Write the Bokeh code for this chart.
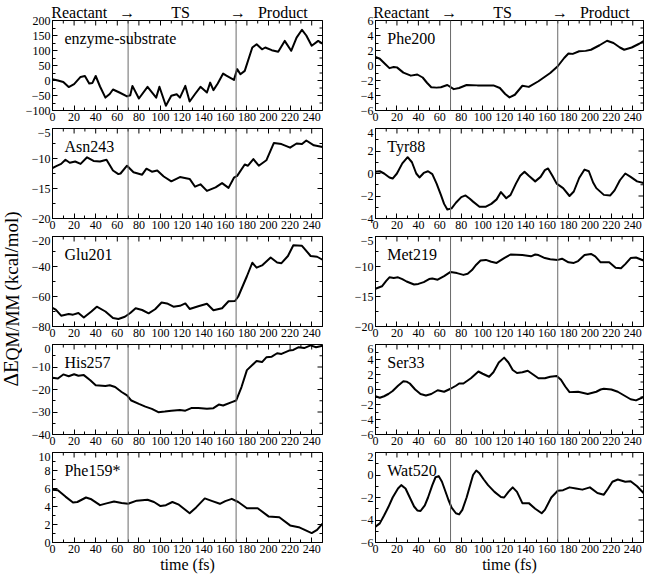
import math
from bokeh.plotting import figure
from bokeh.models import Range1d, SingleIntervalTicker, FixedTicker, LinearAxis, Span, Label
from bokeh.layouts import row, column
from bokeh.embed import file_html
from bokeh.resources import INLINE

FONT = "Liberation Serif"

# ---------------- data (time in fs, energy in kcal/mol) ----------------
es_t = [0, 5, 10, 15, 20, 26, 30, 34, 37, 40, 44, 49, 53, 56, 62, 69, 72, 74, 80, 88, 96, 99, 105, 110, 115, 118,
        123, 127, 132, 137, 143, 146, 149, 153, 158, 161, 168, 171, 174, 178, 185, 189, 194, 197, 203, 209, 215,
        221, 226, 231, 235, 240, 246, 250]
es_v = [4, 0, -5, -22, -12, 12, 15, -10, -8, 15, -20, -57, -45, -30, -40, -53, -49, -18, -60, -21, -57, -21, -84,
        -51, -46, -57, -18, -70, -45, -21, -40, -7, -32, -10, 23, 16, 2, 38, 21, 32, 110, 121, 104, 110, 101, 96,
        132, 99, 143, 169, 150, 116, 132, 123]

asn_t = [0, 3, 8, 12, 16, 21, 26, 32, 38, 44, 50, 56, 61, 63, 69, 75, 83, 87, 92, 97, 103, 110, 118, 127, 132, 137,
         143, 151, 157, 163, 168, 171, 178, 181, 186, 191, 198, 205, 212, 220, 226, 231, 235, 242, 250]
asn_v = [-11.6, -11.3, -10.9, -10.2, -10.7, -10.5, -10.9, -9.8, -10.4, -10.5, -10.2, -12.0, -12.6, -12.5, -11.2,
         -12.3, -12.7, -11.7, -12.2, -12.0, -13.0, -13.8, -13.1, -13.4, -14.7, -14.3, -15.4, -14.8, -14.1, -14.9,
         -13.2, -12.9, -11.0, -11.2, -10.1, -11.2, -10.3, -7.4, -7.6, -8.2, -7.5, -7.6, -7.0, -7.8, -8.1]

glu_t = [0, 3, 8, 15, 19, 24, 29, 36, 41, 49, 56, 61, 67, 72, 77, 83, 89, 95, 101, 106, 112, 118, 123, 127, 135,
         143, 149, 157, 163, 169, 172, 180, 185, 189, 194, 202, 208, 212, 218, 223, 231, 239, 245, 250]
glu_v = [-67.6, -68.8, -72.8, -71.7, -72.1, -71.0, -74.0, -70.0, -66.8, -70.0, -74.4, -75.0, -73.5, -71.0, -67.8,
         -69.0, -71.2, -68.5, -64.0, -64.6, -66.8, -66.2, -64.6, -68.3, -66.5, -64.8, -69.2, -67.8, -63.2, -63.0,
         -60.0, -46.5, -37.5, -40.8, -39.3, -34.0, -37.3, -37.8, -33.0, -25.8, -26.2, -33.0, -33.5, -35.5]

his_t = [0, 5, 10, 15, 20, 24, 29, 35, 40, 49, 53, 58, 64, 69, 73, 80, 86, 92, 98, 104, 110, 118, 123, 129, 135,
         143, 149, 154, 158, 166, 170, 175, 180, 185, 189, 194, 198, 203, 208, 212, 219, 223, 228, 233, 239, 244, 250]
his_v = [-14.8, -15.1, -13.3, -14.1, -13.2, -13.9, -13.6, -15.9, -18.1, -18.4, -18.1, -18.9, -21.1, -22.6, -24.9,
         -26.4, -27.6, -28.6, -30.1, -29.8, -29.4, -29.1, -29.4, -28.2, -28.2, -28.6, -28.3, -26.7, -27.1, -25.6,
         -24.9, -18.9, -11.4, -9.1, -7.3, -7.8, -5.7, -5.4, -3.9, -4.2, -2.7, -2.4, -1.2, -1.6, -0.4, -1.2, -0.6]

phe159_t = [0, 5, 12, 19, 23, 31, 36, 44, 50, 57, 64, 70, 78, 88, 94, 100, 105, 111, 117, 127, 133, 141, 148, 155,
            160, 166, 172, 180, 190, 200, 210, 220, 228, 240, 245, 250]
phe159_v = [5.85, 5.8, 5.1, 4.45, 4.5, 5.0, 4.8, 4.15, 4.35, 4.55, 4.4, 4.3, 4.65, 4.75, 4.5, 4.05, 4.15, 4.5, 4.2,
            3.25, 3.9, 4.9, 4.6, 4.3, 4.6, 4.85, 4.5, 3.8, 3.8, 2.9, 2.8, 1.9, 1.7, 1.05, 1.4, 2.1]

phe200_t = [0, 4, 9, 13, 17, 20, 26, 33, 39, 44, 48, 52, 57, 61, 67, 73, 78, 85, 95, 110, 116, 121, 125, 130, 137,
            143, 152, 158, 163, 170, 176, 180, 184, 190, 196, 201, 209, 216, 222, 228, 232, 239, 246, 250]
phe200_v = [1.15, 0.9, 0.2, -0.35, -0.2, -0.25, -0.95, -1.35, -1.2, -1.6, -2.3, -2.9, -2.95, -2.9, -2.6, -3.15,
            -3.0, -2.6, -2.65, -2.65, -3.0, -3.8, -4.25, -3.9, -2.7, -2.85, -2.1, -1.5, -1.0, -0.1, 1.0, 1.6, 1.55,
            1.9, 1.95, 2.1, 2.7, 3.3, 3.0, 2.4, 2.1, 2.4, 2.9, 3.25]

tyr_t = [0, 4, 8, 13, 16, 20, 25, 30, 34, 38, 41, 45, 49, 53, 57, 61, 64, 67, 71, 75, 80, 84, 88, 91, 97, 103, 108,
         113, 117, 122, 126, 131, 135, 139, 143, 149, 154, 158, 161, 165, 169, 175, 181, 185, 190, 195, 199, 203,
         206, 213, 219, 223, 228, 233, 238, 244, 250]
tyr_v = [0.15, 0.2, 0.0, -0.35, -0.45, 0.0, 0.9, 1.45, 1.0, 0.0, -0.35, 0.05, 0.2, -0.05, -0.9, -1.9, -2.7, -3.2,
         -3.1, -2.6, -2.1, -1.95, -2.25, -2.5, -2.95, -2.95, -2.7, -2.3, -1.65, -2.2, -1.9, -0.9, -0.2, 0.15, -0.2,
         -0.7, -0.3, 0.3, 0.45, -0.2, -0.9, -1.3, -2.0, -1.6, -0.4, 0.35, 0.2, -0.8, -1.3, -1.9, -1.95, -1.5, -0.6,
         0.0, -0.3, -0.7, -0.85]

met_t = [0, 6, 10, 13, 17, 21, 25, 29, 36, 40, 45, 50, 53, 58, 64, 70, 76, 82, 86, 90, 94, 98, 103, 108, 113, 120,
         126, 137, 145, 149, 152, 158, 163, 170, 174, 180, 185, 189, 195, 201, 205, 210, 218, 224, 229, 233, 238,
         243, 250]
met_v = [-13.7, -13.3, -12.4, -11.8, -11.9, -11.8, -12.1, -12.5, -13.0, -12.9, -12.6, -12.1, -12.0, -12.2, -11.6,
         -10.9, -11.1, -11.4, -11.2, -10.6, -9.7, -9.0, -8.9, -9.2, -9.4, -8.6, -8.0, -8.1, -8.3, -8.0, -8.1, -8.6,
         -8.8, -8.9, -8.7, -9.3, -9.4, -9.1, -8.1, -7.9, -8.3, -9.3, -9.3, -10.2, -10.3, -9.6, -8.6, -8.5, -9.0]

ser_t = [0, 4, 8, 12, 16, 21, 26, 29, 32, 37, 42, 47, 52, 58, 64, 70, 75, 78, 82, 89, 96, 100, 106, 110, 115, 120,
         124, 128, 132, 137, 142, 147, 152, 158, 163, 169, 173, 177, 181, 189, 198, 206, 210, 213, 220, 226, 232,
         238, 243, 250]
ser_v = [-0.9, -1.1, -0.9, -0.6, -0.2, 0.5, 1.1, 1.05, 0.8, 0.0, -0.6, -0.8, -0.6, -0.1, -0.3, 0.1, 0.5, 0.8, 0.8,
         1.5, 2.4, 2.1, 1.7, 2.3, 3.6, 4.25, 3.6, 2.6, 2.2, 2.3, 2.5, 2.0, 1.5, 1.5, 1.7, 1.8, 1.3, 0.4, -0.35,
         -0.3, -0.6, -0.3, 0.0, 0.1, 0.0, -0.3, -0.8, -1.3, -1.45, -1.0]

wat_t = [0, 4, 8, 12, 16, 21, 24, 28, 32, 36, 39, 42, 46, 49, 53, 56, 59, 62, 65, 68, 71, 75, 78, 81, 85, 88, 91,
         94, 97, 101, 105, 111, 117, 120, 124, 128, 132, 137, 143, 149, 155, 158, 164, 170, 175, 181, 187, 193,
         200, 207, 213, 217, 221, 226, 233, 238, 244, 250]
wat_v = [-4.6, -4.3, -3.6, -2.85, -2.0, -1.2, -0.9, -1.2, -2.0, -2.8, -3.15, -3.2, -2.7, -2.0, -0.9, -0.2, -0.1,
         -0.6, -1.4, -2.2, -2.9, -3.4, -3.5, -3.1, -2.0, -1.0, 0.0, 0.4, 0.15, -0.4, -0.9, -1.5, -1.95, -2.0, -1.5,
         -1.1, -1.5, -2.5, -2.5, -3.0, -3.4, -3.1, -2.0, -1.4, -1.35, -1.1, -1.2, -1.3, -1.1, -1.6, -1.75, -1.2,
         -0.6, -0.4, -0.6, -0.55, -1.0, -1.6]

x_step = 20
x_max = 250
stage_lines = [70, 170]
NB = "\u00a0"
header_text = ("Reactant" + NB * 3 + "\u2192" + NB * 9 + "TS" + NB * 10 + "\u2192" + NB * 3 + "Product" + NB * 4)

left_specs = [
    ("enzyme-substrate", es_t, es_v, -100, 200, 50),
    ("Asn243", asn_t, asn_v, -20, -5, 5),
    ("Glu201", glu_t, glu_v, -80, -20, 20),
    ("His257", his_t, his_v, -40, 0, 10),
    ("Phe159*", phe159_t, phe159_v, 0, 10, 2),
]
right_specs = [
    ("Phe200", phe200_t, phe200_v, -6, 6, 2),
    ("Tyr88", tyr_t, tyr_v, -4, 4, 2),
    ("Met219", met_t, met_v, -20, -5, 5),
    ("Ser33", ser_t, ser_v, -6, 6, 2),
    ("Wat520", wat_t, wat_v, -6, 2, 2),
]

FH = 90
MAJ, MIN = 5, 3


def col_geom(col):
    # frame width, left border, right border
    return (270, 24, 8) if col == 0 else (268, 45, 1)


def style_axis(ax):
    ax.axis_line_color = "black"
    ax.axis_line_width = 1
    ax.major_tick_in = MAJ
    ax.major_tick_out = 0
    ax.minor_tick_in = MIN
    ax.minor_tick_out = 0
    ax.major_tick_line_color = "black"
    ax.minor_tick_line_color = "black"
    ax.major_label_text_font = FONT
    ax.major_label_text_color = "black"
    ax.major_label_text_font_size = "12px"
    ax.major_label_standoff = 2


def frange(a, b, s):
    out = []
    k = 0
    while a + k * s <= b + 1e-9:
        out.append(a + k * s)
        k += 1
    return out


def make_panel(spec, col, ri):
    name, t, v, ylo, yhi, ystep = spec
    fw, bl, br = col_geom(col)
    first = ri == 0
    last = ri == 4
    p = figure(frame_width=fw, frame_height=FH,
               x_range=Range1d(0, x_max), y_range=Range1d(ylo, yhi),
               output_backend="svg", toolbar_location=None,
               min_border_left=bl, min_border_right=br,
               min_border_top=15 if first else 0, min_border_bottom=33 if last else 18,
               background_fill_color="white", border_fill_color="white")
    p.grid.visible = False
    p.outline_line_color = "black"
    bx = p.xaxis[0]
    by = p.yaxis[0]
    bx.ticker = SingleIntervalTicker(interval=x_step, num_minor_ticks=2)
    by.ticker = SingleIntervalTicker(interval=ystep, num_minor_ticks=2)
    style_axis(bx)
    style_axis(by)
    if last:
        bx.axis_label = "time (fs)"
        bx.axis_label_text_font = FONT
        bx.axis_label_text_font_size = "16px"
        bx.axis_label_text_font_style = "normal"
        bx.axis_label_standoff = 0
        bx.axis_label_text_color = "black"
    if first:
        top = LinearAxis(ticker=FixedTicker(ticks=[]), axis_label=header_text)
        top.axis_line_color = "black"
        top.major_tick_in = 0
        top.major_tick_out = 0
        top.minor_tick_in = 0
        top.minor_tick_out = 0
        top.major_label_standoff = 0
        top.axis_label_standoff = 0
        top.axis_label_text_font = FONT
        top.axis_label_text_font_size = "16px"
        top.axis_label_text_font_style = "normal"
        top.axis_label_text_color = "black"
        p.add_layout(top, "above")

    # mirrored inward ticks on the top and right frame edges
    upy = (yhi - ylo) / FH
    upx = x_max / fw
    xmaj = frange(0, x_max, x_step)
    xmin = frange(x_step / 2, x_max, x_step)
    ymaj = frange(ylo, yhi, ystep)
    ymin = frange(ylo + ystep / 2, yhi, ystep)
    p.segment(x0=xmaj, x1=xmaj, y0=[yhi] * len(xmaj), y1=[yhi - MAJ * upy] * len(xmaj),
              line_color="black", line_width=1)
    p.segment(x0=xmin, x1=xmin, y0=[yhi] * len(xmin), y1=[yhi - MIN * upy] * len(xmin),
              line_color="black", line_width=1)
    p.segment(x0=[x_max] * len(ymaj), x1=[x_max - MAJ * upx] * len(ymaj), y0=ymaj, y1=ymaj,
              line_color="black", line_width=1)
    p.segment(x0=[x_max] * len(ymin), x1=[x_max - MIN * upx] * len(ymin), y0=ymin, y1=ymin,
              line_color="black", line_width=1)

    for s in stage_lines:
        p.add_layout(Span(location=s, dimension="height", line_color="#6a6a6a", line_width=1))
    p.line(t, v, line_color="black", line_width=2, line_join="round")
    p.add_layout(Label(x=11, y=yhi - 18 * upy, text=name, text_font=FONT, text_font_size="16px",
                       text_baseline="middle", text_align="left", text_color="black"))
    return p


left_col = column([make_panel(s, 0, i) for i, s in enumerate(left_specs)], spacing=0)
right_col = column([make_panel(s, 1, i) for i, s in enumerate(right_specs)], spacing=0)

TOTAL_H = 15 + 4 * 108 + 123
YW = 22
yl = figure(width=YW, height=TOTAL_H, x_range=Range1d(0, YW), y_range=Range1d(0, TOTAL_H),
            output_backend="svg", toolbar_location=None, x_axis_location=None, y_axis_location=None,
            min_border_left=0, min_border_right=0, min_border_top=0, min_border_bottom=0)
yl.grid.visible = False
yl.outline_line_color = None
y0 = TOTAL_H - 386
yl.add_layout(Label(x=10.5, y=y0, text="\u0394E", angle=math.pi / 2, text_font=FONT, text_font_size="21px",
                    text_align="left", text_baseline="middle", text_color="black"))
yl.add_layout(Label(x=12.5, y=y0 + 26, text="QM/MM", angle=math.pi / 2, text_font=FONT, text_font_size="18px",
                    text_align="left", text_baseline="middle", text_color="black"))
yl.add_layout(Label(x=10.5, y=y0 + 26 + 66 + 4, text="(kcal/mol)", angle=math.pi / 2, text_font=FONT,
                    text_font_size="19px", text_align="left", text_baseline="middle", text_color="black"))

layout = row([yl, left_col, right_col], spacing=0)
open("out.html", "w").write(file_html(layout, INLINE))
